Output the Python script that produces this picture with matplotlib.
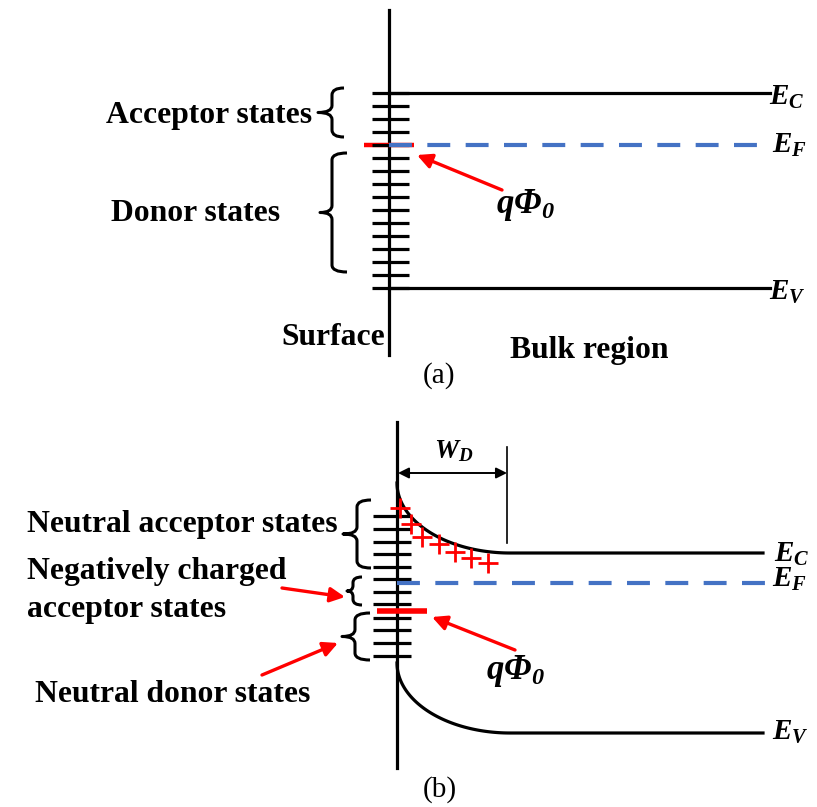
import numpy as np
import matplotlib
matplotlib.use("Agg")
import matplotlib.pyplot as plt
from matplotlib.path import Path
from matplotlib.patches import PathPatch

plt.rcParams['font.family'] = ['Liberation Serif', 'DejaVu Serif']
plt.rcParams['mathtext.fontset'] = 'custom'
plt.rcParams['mathtext.it'] = 'Liberation Serif:italic:bold'
plt.rcParams['mathtext.rm'] = 'Liberation Serif:italic:bold'
plt.rcParams['mathtext.bf'] = 'Liberation Serif:italic:bold'

# ---------------- data (pixel-space diagram coordinates) ----------------
# Panel (a): flat bands
surface_a_x = 389
surface_a_span = [10, 355]
EC_a, EF_a, EV_a = 93, 145, 288
band_end_a = 770
states_a = [93, 106, 119, 132, 145, 158, 171, 184, 197, 210, 223, 236, 249, 262, 275, 288]
state_tick_a = [372, 409]
red_bar_a = [364, 414]

# Panel (b): bent bands
surface_b_x = 397
surface_b_span = [422, 768]
EC_b, EF_b, EV_b = 553, 583, 733
band_bend = 70
depletion_width = 113
band_end_b = 763
states_b = [516, 529, 542, 554, 567, 579, 592, 604, 618, 630, 643, 656]
state_tick_b = [373, 411]
phi_level_b = 611
red_bar_b = [377, 427]
plus_x = [400, 411, 422, 439, 455, 471, 488]
plus_y = [508, 524, 537, 544, 552, 558, 563]

BLUE = '#4472C4'
RED = '#FF0000'
LW = 2.3

fig = plt.figure(figsize=(8.17, 8.07), dpi=100)
ax = fig.add_axes([0, 0, 1, 1])
ax.set_xlim(0, 817)
ax.set_ylim(807, 0)
ax.axis('off')


def brace(x_end, x_v, x_tip, top, bot, lw=2.2):
    mid = (top + bot) / 2
    r = min(7, (bot - top) / 5)
    verts = [(x_end, top), (x_v, top), (x_v, top + r),
             (x_v, mid - r), (x_v, mid), (x_tip, mid),
             (x_v, mid), (x_v, mid + r),
             (x_v, bot - r), (x_v, bot), (x_end, bot)]
    codes = [Path.MOVETO, Path.CURVE3, Path.CURVE3,
             Path.LINETO, Path.CURVE3, Path.CURVE3,
             Path.CURVE3, Path.CURVE3,
             Path.LINETO, Path.CURVE3, Path.CURVE3]
    ax.add_patch(PathPatch(Path(verts, codes), fill=False, lw=lw, color='black',
                           capstyle='butt', joinstyle='round'))


def red_arrow(x0, y0, x1, y1):
    ax.annotate('', xy=(x1, y1), xytext=(x0, y0),
                arrowprops=dict(arrowstyle='-|>', color=RED, lw=2.4,
                                mutation_scale=22, shrinkA=0, shrinkB=0))


label_font = dict(fontsize=22.8, fontweight='bold', family='Liberation Serif')
elabel_font = dict(fontsize=21)

# ---------------- panel (a) ----------------
ax.plot([surface_a_x] * 2, surface_a_span, color='black', lw=LW)
ax.plot(red_bar_a, [EF_a] * 2, color=RED, lw=3.2, solid_capstyle='butt')
for y in states_a:
    ax.plot(state_tick_a, [y, y], color='black', lw=LW, solid_capstyle='butt')
ax.plot([surface_a_x, band_end_a], [EC_a] * 2, color='black', lw=LW)
ax.plot([surface_a_x, band_end_a], [EV_a] * 2, color='black', lw=LW)
ax.plot([surface_a_x, band_end_a], [EF_a] * 2, color=BLUE, lw=3.0,
        linestyle=(0, (5.5, 3.7)))

ax.text(769, 105, r'$E_C$', **elabel_font)
ax.text(772, 153, r'$E_F$', **elabel_font)
ax.text(769, 300, r'$E_V$', **elabel_font)

brace(344, 332, 318, 88, 137)
brace(347, 332, 320, 153, 272)
ax.text(106, 123, 'Acceptor states', **label_font)
ax.text(111, 221, 'Donor states', **label_font)
ax.text(281, 345, 'Surface', **label_font)
ax.text(510, 358, 'Bulk region', **label_font)
ax.text(439, 383, '(a)', fontsize=21, ha='center')

red_arrow(502, 190, 417, 155)
ax.text(496, 213, r'$q\Phi_0$', fontsize=25)

# ---------------- panel (b) ----------------
ax.plot([surface_b_x] * 2, surface_b_span, color='black', lw=LW)
for y in states_b:
    ax.plot(state_tick_b, [y, y], color='black', lw=LW, solid_capstyle='butt')
ax.plot(red_bar_b, [phi_level_b] * 2, color=RED, lw=4.0, solid_capstyle='butt')

t = np.linspace(0, np.pi / 2, 80)
bx = surface_b_x + depletion_width * (1 - np.cos(t))
for flat in (EC_b, EV_b):
    by = flat - band_bend + band_bend * np.sin(t)
    ax.plot(np.append(bx, band_end_b), np.append(by, flat), color='black', lw=LW)
ax.plot([surface_b_x, band_end_b + 10], [EF_b] * 2, color=BLUE, lw=3.0,
        linestyle=(0, (5.5, 3.7)))

ax.plot(plus_x, plus_y, linestyle='none', marker='+', markersize=15,
        markeredgewidth=2.0, color=RED)

# depletion width
xw = surface_b_x + depletion_width - 3
ax.plot([xw, xw], [447, 543], color='black', lw=1.2)
ax.annotate('', xy=(surface_b_x + 1, 473), xytext=(xw, 473),
            arrowprops=dict(arrowstyle='<|-|>', color='black', lw=1.4,
                            mutation_scale=16, shrinkA=0, shrinkB=0))
ax.text(434, 458, r'$W_D$', fontsize=19.5)

ax.text(774, 562, r'$E_C$', **elabel_font)
ax.text(772, 587, r'$E_F$', **elabel_font)
ax.text(772, 740, r'$E_V$', **elabel_font)

brace(371, 357, 343, 500, 568)
brace(362, 353, 347, 577, 605)
brace(370, 355, 342, 613, 660)
ax.text(27, 532, 'Neutral acceptor states', **label_font)
ax.text(27, 579, 'Negatively charged', **label_font)
ax.text(27, 617, 'acceptor states', **label_font)
ax.text(35, 702, 'Neutral donor states', **label_font)
ax.text(440, 797, '(b)', fontsize=21, ha='center')

red_arrow(282, 588, 345, 597)
red_arrow(262, 675, 338, 643)
red_arrow(515, 650, 432, 617)
ax.text(486, 679, r'$q\Phi_0$', fontsize=25)

fig.savefig('out.png', dpi=100)
